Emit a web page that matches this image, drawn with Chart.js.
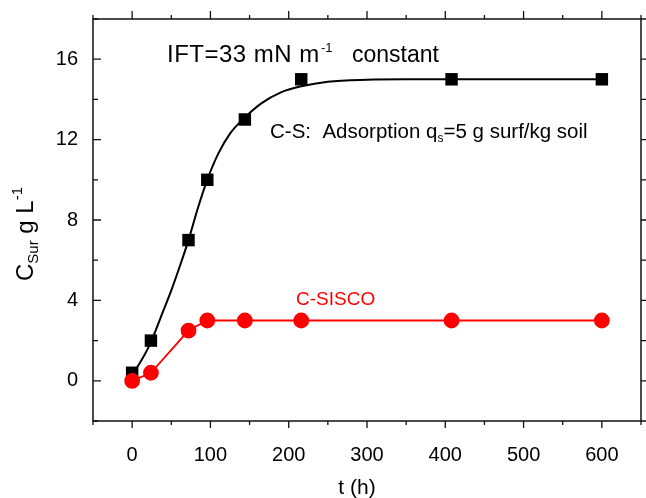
<!DOCTYPE html>
<html>
<head>
<meta charset="utf-8">
<script src="https://cdn.jsdelivr.net/npm/chart.js@4.4.1/dist/chart.umd.min.js"></script>
<style>
  html, body { margin: 0; padding: 0; background: #fff; }
  #wrap { width: 646px; height: 498px; }
</style>
</head>
<body>
<div id="wrap"><canvas id="c" width="646" height="498"></canvas></div>
<script>
// ---- data ----
const sampleTimes = [0, 24, 72, 96, 144, 216, 408, 600];          // t (h)
const csValues    = [0.4, 2, 7, 10, 13, 15, 15, 15];               // C-S measured (black squares)
const siscoValues = [0, 0.4, 2.5, 3, 3, 3, 3, 3];                  // C-SISCO (red circles)
const fitTimes    = [0, 10, 20, 30, 40, 50, 60, 72, 84, 96, 110, 125, 144, 165, 190, 216, 250, 300, 350, 408, 500, 600];
const fitValues   = [0.3, 0.9, 1.6, 2.5, 3.5, 4.5, 5.6, 7.0, 8.6, 10.0, 11.3, 12.3, 13.1, 13.8, 14.35, 14.65, 14.88, 14.98, 15.0, 15.0, 15.0, 15.0];
const xTickLabels = [0, 100, 200, 300, 400, 500, 600];
const yTickLabels = [0, 4, 8, 12, 16];
const xMinorTicks = [-50, 0, 50, 100, 150, 200, 250, 300, 350, 400, 450, 500, 550, 600, 650];
const yMinorTicks = [-2, 0, 2, 4, 6, 8, 10, 12, 14, 16, 18];

const FONT = "'Liberation Sans', Arial, Helvetica, sans-serif";
const pts = (xs, ys) => xs.map((x, i) => ({ x: x, y: ys[i] }));

const framePlugin = {
  id: 'frame',
  afterDraw(chart) {
    const { ctx, chartArea: a, scales: { x, y } } = chart;
    ctx.save();
    ctx.strokeStyle = '#111';
    ctx.lineWidth = 1.5;
    ctx.strokeRect(a.left, a.top, a.right - a.left, a.bottom - a.top);
    ctx.lineWidth = 1.3;
    ctx.beginPath();
    xMinorTicks.forEach(v => {
      const px = x.getPixelForValue(v);
      const major = v % 100 === 0;
      const lb = major ? 7 : 4, lt = major ? 8 : 4;
      ctx.moveTo(px, a.bottom); ctx.lineTo(px, a.bottom + lb);
      ctx.moveTo(px, a.top); ctx.lineTo(px, a.top - lt);
    });
    yMinorTicks.forEach(v => {
      const py = y.getPixelForValue(v);
      const major = v % 4 === 0;
      const l = major ? 8 : 5;
      ctx.moveTo(a.left, py); ctx.lineTo(a.left + l, py);
      ctx.moveTo(a.right, py); ctx.lineTo(a.right + l, py);
    });
    ctx.stroke();

    // annotations
    ctx.fillStyle = '#000';
    ctx.textBaseline = 'alphabetic';
    ctx.textAlign = 'left';
    // IFT text
    let by = 62;
    ctx.font = '24px ' + FONT;
    ctx.letterSpacing = '0.5px';
    ctx.fillText('IFT=33 mN m', 167, by);
    ctx.letterSpacing = '0px';
    ctx.font = '13px ' + FONT;
    ctx.fillText('-1', 321, by - 10);
    ctx.font = '23px ' + FONT;
    ctx.fillText('constant', 352, by);

    // C-S text
    let cx = 270; by = 138;
    ctx.font = '20.5px ' + FONT;
    ctx.fillText('C-S:  Adsorption q', cx, by);
    cx += ctx.measureText('C-S:  Adsorption q').width;
    ctx.font = '12px ' + FONT;
    ctx.fillText('s', cx, by + 4);
    cx += ctx.measureText('s').width;
    ctx.font = '20.5px ' + FONT;
    ctx.fillText('=5 g surf/kg soil', cx, by);

    // C-SISCO
    ctx.fillStyle = '#ff0000';
    ctx.font = '19px ' + FONT;
    ctx.fillText('C-SISCO', 296, 305);

    // x title
    ctx.fillStyle = '#000';
    ctx.font = '21px ' + FONT;
    ctx.textAlign = 'center';
    ctx.fillText('t (h)', 357, 494);

    // y title (rotated)
    ctx.save();
    ctx.translate(33, 234);
    ctx.rotate(-Math.PI / 2);
    ctx.textAlign = 'left';
    const parts = [
      { t: 'C', f: '24px ', dy: 0 },
      { t: 'Sur', f: '15px ', dy: 5 },
      { t: ' g L', f: '24px ', dy: 0 },
      { t: '-1', f: '15px ', dy: -11 }
    ];
    let w = 0;
    parts.forEach(p => { ctx.font = p.f + FONT; w += ctx.measureText(p.t).width; });
    let sx = -w / 2;
    parts.forEach(p => {
      ctx.font = p.f + FONT;
      ctx.fillText(p.t, sx, p.dy);
      sx += ctx.measureText(p.t).width;
    });
    ctx.restore();
    ctx.restore();
  }
};

new Chart(document.getElementById('c'), {
  type: 'scatter',
  data: {
    datasets: [
      {
        label: 'C-SISCO',
        data: pts(sampleTimes, siscoValues),
        showLine: true,
        borderColor: '#ff0000',
        backgroundColor: '#ff0000',
        borderWidth: 1.8,
        pointRadius: 7,
        pointHoverRadius: 7,
        pointStyle: 'circle',
        tension: 0
      },
      {
        label: 'C-S measured',
        data: pts(sampleTimes, csValues),
        showLine: false,
        borderColor: '#000',
        backgroundColor: '#000',
        pointStyle: 'rect',
        pointRadius: 8.8,
        pointHoverRadius: 8.8,
        borderWidth: 0
      },
      {
        label: 'C-S fit',
        data: pts(fitTimes, fitValues),
        showLine: true,
        borderColor: '#000',
        borderWidth: 2,
        pointRadius: 0,
        pointHoverRadius: 0,
        cubicInterpolationMode: 'monotone'
      }
    ]
  },
  options: {
    responsive: false,
    animation: false,
    events: [],
    layout: { autoPadding: false, padding: { left: 0, right: 5, top: 19, bottom: 0 } },
    plugins: { legend: { display: false }, tooltip: { enabled: false } },
    scales: {
      x: {
        type: 'linear',
        min: -50, max: 650,
        afterBuildTicks: s => { s.ticks = xTickLabels.map(v => ({ value: v })); },
        afterFit: s => { s.height = 77; s.paddingLeft = 0; s.paddingRight = 0; },
        grid: { display: false, drawTicks: false },
        border: { display: false },
        ticks: { font: { family: FONT, size: 20 }, color: '#000', padding: 22, maxRotation: 0, autoSkip: false }
      },
      y: {
        type: 'linear',
        min: -2, max: 18,
        afterBuildTicks: s => { s.ticks = yTickLabels.map(v => ({ value: v })); },
        afterFit: s => { s.width = 93; s.paddingTop = 0; s.paddingBottom = 0; },
        grid: { display: false, drawTicks: false },
        border: { display: false },
        ticks: { font: { family: FONT, size: 20 }, color: '#000', padding: 15, autoSkip: false }
      }
    }
  },
  plugins: [framePlugin]
});
</script>
</body>
</html>
